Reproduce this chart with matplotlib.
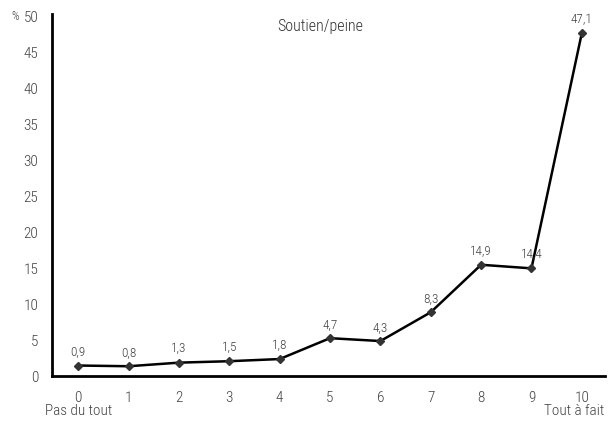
import matplotlib
matplotlib.use("Agg")
import matplotlib.pyplot as plt
from matplotlib import font_manager
import matplotlib.transforms as mtransforms

categories = [0, 1, 2, 3, 4, 5, 6, 7, 8, 9, 10]
values = [0.9, 0.8, 1.3, 1.5, 1.8, 4.7, 4.3, 8.3, 14.9, 14.4, 47.1]
value_labels = ["0,9", "0,8", "1,3", "1,5", "1,8", "4,7", "4,3", "8,3", "14,9", "14,4", "47,1"]
yticks = [0, 5, 10, 15, 20, 25, 30, 35, 40, 45, 50]
title = "Soutien/peine"

names = {f.name for f in font_manager.fontManager.ttflist}
fam = [n for n in ['Liberation Sans Narrow', 'Roboto Condensed', 'Open Sans Condensed'] if n in names]
plt.rcParams['font.family'] = fam + ['Liberation Sans', 'DejaVu Sans']
plt.rcParams['font.stretch'] = 'condensed'
plt.rcParams['font.weight'] = 'light'

fig = plt.figure(figsize=(6.13, 4.23), dpi=100)
ax = fig.add_axes([52/613, 1 - 376/423, (605-52)/613, (376-14)/423])

off = mtransforms.offset_copy(ax.transData, fig=fig, x=0, y=4, units='dots')
ax.plot(categories, values, color='black', lw=1.8, marker='D', markersize=4.5,
        markerfacecolor='#333333', markeredgecolor='#333333', transform=off, clip_on=False)
for x, v, lab in zip(categories, values, value_labels):
    ax.annotate(lab, (x, v), xytext=(0, 8), textcoords='offset points',
                ha='center', va='bottom', fontsize=9.5, color='#404040')

ax.set_xlim(-0.52, 10.46)
ax.set_ylim(0, 50.3)
ax.set_yticks(yticks)
ax.set_xticks(categories)
ax.set_xticklabels([str(c) for c in categories])
ax.tick_params(length=0, labelsize=11, colors='#404040')
ax.tick_params(axis='x', pad=11)
ax.tick_params(axis='y', pad=10)
for s in ['top', 'right']:
    ax.spines[s].set_visible(False)
for s in ['left', 'bottom']:
    ax.spines[s].set_linewidth(2)
    ax.spines[s].set_color('black')

fig.text(320/613, 1 - 27/423, title, ha='center', va='center', fontsize=11.5, color='#333333')
fig.text(15/613, 1 - 17/423, "%", ha='center', va='center', fontsize=8.5, color='#404040')
fig.text(45/613, 1 - 411/423, "Pas du tout", ha='left', va='center', fontsize=11, color='#404040')
fig.text(604/613, 1 - 411/423, "Tout à fait", ha='right', va='center', fontsize=11, color='#404040')

fig.savefig("out.png", dpi=100)
